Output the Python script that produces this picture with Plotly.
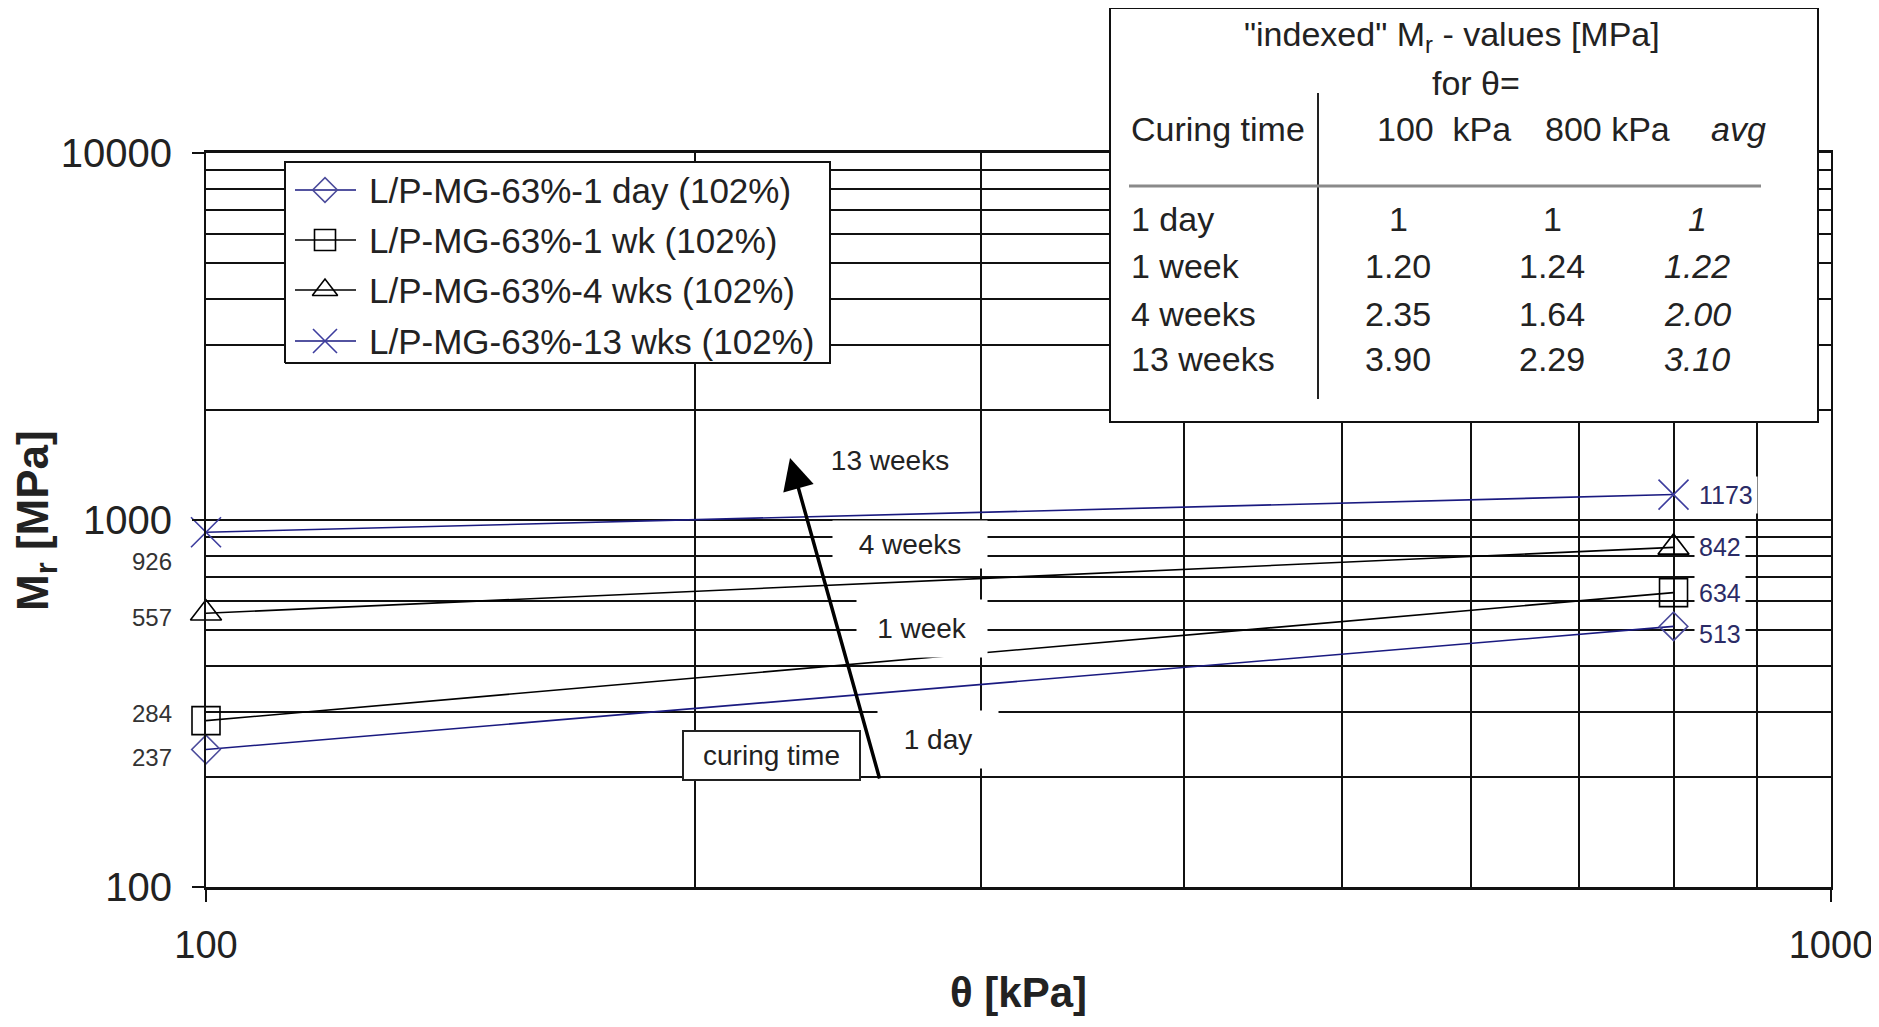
import math
import plotly.graph_objects as go

# ---------------- data ----------------
theta_kpa = [100, 800]
series_names = [
    "L/P-MG-63%-1 day (102%)",
    "L/P-MG-63%-1 wk (102%)",
    "L/P-MG-63%-4 wks (102%)",
    "L/P-MG-63%-13 wks (102%)",
]
mr_1day = [237, 513]
mr_1wk = [284, 634]
mr_4wks = [557, 842]
mr_13wks = [926, 1173]

curve_labels = ["1 day", "1 week", "4 weeks", "13 weeks"]

table_title = '"indexed" M<sub>r</sub> - values [MPa]'
table_subtitle = "for θ="
table_headers = ["Curing time", "100  kPa", "800 kPa", "<i>avg</i>"]
curing_times = ["1 day", "1 week", "4 weeks", "13 weeks"]
index_100 = ["1", "1.20", "2.35", "3.90"]
index_800 = ["1", "1.24", "1.64", "2.29"]
index_avg = ["1", "1.22", "2.00", "3.10"]

x_tick_vals = [100, 1000]
y_tick_vals = [100, 1000, 10000]
x_minor_vals = [200, 300, 400, 500, 600, 700, 800, 900]
y_minor_vals = [200, 300, 400, 500, 600, 700, 800, 900,
                2000, 3000, 4000, 5000, 6000, 7000, 8000, 9000]

# ---------------- layout helpers ----------------
SCREEN_W, SCREEN_H = 1879, 1027
PAGE_MARGIN = 8                     # default body margin of the html page
W, H = SCREEN_W - PAGE_MARGIN, SCREEN_H - 2 * PAGE_MARGIN
L, R, T, B = 206, 1831, 153, 887    # plot area in screen pixels
FONT = "Liberation Sans, Arial, sans-serif"


def px(xp, yp):
    """screen pixel -> paper coordinates"""
    return (xp - L) / (R - L), (B - yp) / (B - T)


series_style = [
    dict(line="#1a1a80", marker="#4b4b9b", symbol="diamond-open", size=22, lsize=19),
    dict(line="#000000", marker="#000000", symbol="square-open", size=28, lsize=21),
    dict(line="#000000", marker="#000000", symbol="triangle-up-open", size=27, lsize=22),
    dict(line="#1a1a80", marker="#3d3d9e", symbol="x-thin-open", size=30, lsize=24),
]
series_values = [mr_1day, mr_1wk, mr_4wks, mr_13wks]

fig = go.Figure()
for name, vals, st in zip(series_names, series_values, series_style):
    fig.add_trace(go.Scatter(
        x=theta_kpa, y=vals, name=name, mode="lines+markers", showlegend=False,
        cliponaxis=False,
        line=dict(color=st["line"], width=1.6),
        marker=dict(symbol=st["symbol"], size=st["size"], color=st["marker"],
                    line=dict(color=st["marker"], width=1.6)),
    ))

# ---------------- hand-drawn legend (overlay paper axes) ----------------
lx0, ly0 = px(285, 363)
lx1, ly1 = px(830, 162)
fig.add_trace(go.Scatter(
    x=[lx0, lx1, lx1, lx0, lx0], y=[ly0, ly0, ly1, ly1, ly0],
    xaxis="x2", yaxis="y2", mode="lines", fill="toself", fillcolor="white",
    line=dict(color="#111111", width=2), showlegend=False, hoverinfo="skip",
    cliponaxis=False))

legend_rows = [190, 240, 290, 341]
annotations = []
for name, st, ry in zip(series_names, series_style, legend_rows):
    xa, ya = px(295, ry)
    xb, _ = px(356, ry)
    xc, _ = px(325, ry)
    fig.add_trace(go.Scatter(
        x=[xa, xb], y=[ya, ya], xaxis="x2", yaxis="y2", mode="lines",
        line=dict(color=st["line"], width=1.6), showlegend=False,
        hoverinfo="skip", cliponaxis=False))
    fig.add_trace(go.Scatter(
        x=[xc], y=[ya], xaxis="x2", yaxis="y2", mode="markers",
        marker=dict(symbol=st["symbol"], size=st["lsize"], color=st["marker"],
                    line=dict(color=st["marker"], width=1.6)),
        showlegend=False, hoverinfo="skip", cliponaxis=False))
    xt, _ = px(367, ry)
    annotations.append(dict(
        xref="paper", yref="paper", x=xt, y=ya, xanchor="left", yanchor="middle",
        text=name, showarrow=False, font=dict(family=FONT, size=35, color="#222222")))

shapes = []

# left-side value labels (100 kPa)
left_shifts = [-8, 7, -4, -29]
for vals, ys in zip(series_values, left_shifts):
    annotations.append(dict(
        xref="paper", x=0, xanchor="right", xshift=-32,
        yref="y", y=math.log10(vals[0]), yanchor="middle", yshift=ys,
        text=str(vals[0]), showarrow=False,
        font=dict(family=FONT, size=24, color="#333333")))

# right-side value labels (800 kPa)
right_shifts = [-8, 0, 0, 0]
for vals, ys in zip(series_values, right_shifts):
    annotations.append(dict(
        xref="x", x=math.log10(theta_kpa[1]), xanchor="left", xshift=20,
        yref="y", y=math.log10(vals[1]), yanchor="middle", yshift=ys,
        text=str(vals[1]), showarrow=False, bgcolor="white", borderpad=4,
        font=dict(family=FONT, size=25, color="#2b2b66")))

# curve labels with white boxes
label_boxes = [  # center x, center y, width, height (screen pixels)
    (938, 739, 120, 57),
    (922, 628, 130, 57),
    (910, 544, 154, 47),
    (890, 460, 130, 40),
]
for txt, (cx, cy, bw, bh) in zip(curve_labels, label_boxes):
    x, y = px(cx, cy)
    annotations.append(dict(
        xref="paper", yref="paper", x=x, y=y, xanchor="center", yanchor="middle",
        text=txt, showarrow=False, bgcolor="white", width=bw, height=bh,
        borderpad=0, font=dict(family=FONT, size=28, color="#222222")))

# "curing time" box
x, y = px(771, 755)
annotations.append(dict(
    xref="paper", yref="paper", x=x, y=y, xanchor="center", yanchor="middle",
    text="curing time", showarrow=False, bgcolor="white", width=175, height=47,
    bordercolor="#222222", borderwidth=2, borderpad=0,
    font=dict(family=FONT, size=28, color="#222222")))

# arrow
x, y = px(790, 458)
annotations.append(dict(
    xref="paper", yref="paper", x=x, y=y, text="", showarrow=True,
    ax=90, ay=322, axref="pixel", ayref="pixel",
    arrowhead=2, arrowsize=1.8, arrowwidth=3.5, arrowcolor="#000000"))

# axis titles
x, y = px((L + R) / 2, 1017)
annotations.append(dict(
    xref="paper", yref="paper", x=x, y=y, xanchor="center", yanchor="bottom",
    text="<b>θ [kPa]</b>", showarrow=False, borderpad=0,
    font=dict(family=FONT, size=42, color="#222222")))
x, y = px(36, 521)
annotations.append(dict(
    xref="paper", yref="paper", x=x, y=y, xanchor="center", yanchor="middle",
    text="<b>M<sub>r</sub> [MPa]</b>", showarrow=False, textangle=-90,
    font=dict(family=FONT, size=44, color="#222222")))

# ---------------- table ----------------
x0, y0 = px(1110, 422)
x1, y1 = px(1818, 8)
shapes.append(dict(type="rect", xref="paper", yref="paper", x0=x0, y0=y0, x1=x1, y1=y1,
                   fillcolor="white", line=dict(color="#111111", width=2), layer="above"))
xa, ya = px(1318, 399)
xb, yb = px(1318, 93)
shapes.append(dict(type="line", xref="paper", yref="paper", x0=xa, y0=ya, x1=xb, y1=yb,
                   line=dict(color="#222222", width=2), layer="above"))
xa, ya = px(1129, 186)
xb, yb = px(1761, 186)
shapes.append(dict(type="line", xref="paper", yref="paper", x0=xa, y0=ya, x1=xb, y1=yb,
                   line=dict(color="#8a8a8a", width=3), layer="above"))

TFS = 34


def tbl(text, xp, yp, anchor="center"):
    x, y = px(xp, yp)
    annotations.append(dict(
        xref="paper", yref="paper", x=x, y=y, xanchor=anchor, yanchor="middle",
        text=text, showarrow=False, font=dict(family=FONT, size=TFS, color="#222222")))


tbl(table_title, 1452, 36)
tbl(table_subtitle, 1476, 83)
tbl(table_headers[0], 1129, 129, "left")
tbl(table_headers[1], 1444, 129)
tbl(table_headers[2], 1607, 129)
tbl(table_headers[3], 1738, 129)
row_y = [219, 266, 314, 359]
for i, ry in enumerate(row_y):
    tbl(curing_times[i], 1129, ry, "left")
    tbl(index_100[i], 1398, ry)
    tbl(index_800[i], 1552, ry)
    tbl("<i>" + index_avg[i] + "</i>", 1697, ry)

# ---------------- axes & layout ----------------
GRID = dict(showgrid=True, gridcolor="#111111", gridwidth=1.6)
fig.update_layout(
    width=W, height=H,
    margin=dict(l=L - PAGE_MARGIN, r=W - (R - PAGE_MARGIN),
                t=T - PAGE_MARGIN, b=H - (B - PAGE_MARGIN), autoexpand=False),
    paper_bgcolor="white", plot_bgcolor="rgba(0,0,0,0)",
    font=dict(family=FONT, color="#222222"),
    showlegend=False,
    xaxis=dict(type="log", range=[2, 3], tickvals=x_tick_vals,
               ticktext=[str(v) for v in x_tick_vals],
               ticks="outside", ticklen=12, tickcolor="#111111", tickwidth=1.6,
               ticklabelstandoff=11, ticklabeloverflow="allow",
               tickfont=dict(family=FONT, size=38, color="#222222"),
               showline=True, linecolor="#111111", linewidth=2.5, mirror=True,
               zeroline=False, automargin=False,
               minor=dict(tickvals=x_minor_vals, ticks="", **GRID), **GRID),
    yaxis=dict(type="log", range=[2, 4], tickvals=y_tick_vals,
               ticktext=[str(v) for v in y_tick_vals],
               ticks="outside", ticklen=12, tickcolor="#111111", tickwidth=1.6,
               ticklabelstandoff=12,
               tickfont=dict(family=FONT, size=40, color="#222222"),
               showline=True, linecolor="#111111", linewidth=2, mirror=True,
               zeroline=False, automargin=False,
               minor=dict(tickvals=y_minor_vals, ticks="", **GRID), **GRID),
    xaxis2=dict(domain=[0, 1], anchor="y2", range=[0, 1], visible=False,
                showgrid=False, zeroline=False),
    yaxis2=dict(domain=[0, 1], anchor="x2", range=[0, 1], visible=False,
                showgrid=False, zeroline=False),
    annotations=annotations,
    shapes=shapes,
)

fig.write_html("out.html", config={"displayModeBar": False})
